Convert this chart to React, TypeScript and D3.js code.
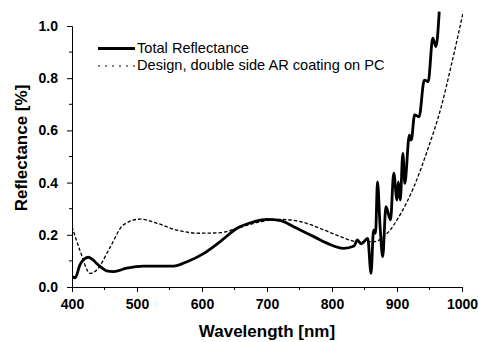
import { useEffect, useRef } from 'react';
import * as d3 from 'd3';

// Total Reflectance (measured)
const totalNm = [400, 405, 412, 418, 425, 432, 438, 446, 453, 464, 484, 510, 536, 556, 577, 603, 628, 654, 680, 700, 721, 741, 772, 793, 818, 834, 839, 845, 855, 860, 864, 867, 870, 874, 878, 883, 890, 895, 900, 902, 905, 909, 912, 919, 922, 927, 934, 942, 948, 955, 960, 965];
const totalR = [0.04, 0.035, 0.084, 0.105, 0.114, 0.105, 0.09, 0.073, 0.062, 0.059, 0.072, 0.08, 0.08, 0.08, 0.097, 0.129, 0.174, 0.225, 0.25, 0.259, 0.254, 0.231, 0.193, 0.167, 0.148, 0.157, 0.18, 0.165, 0.186, 0.052, 0.218, 0.206, 0.403, 0.231, 0.116, 0.308, 0.257, 0.436, 0.333, 0.403, 0.333, 0.512, 0.397, 0.582, 0.563, 0.659, 0.652, 0.793, 0.787, 0.953, 0.921, 1.055];

// Design, double side AR coating on PC
const designNm = [400, 412, 428, 438, 459, 479, 505, 531, 561, 597, 628, 654, 690, 721, 752, 788, 813, 839, 865, 885, 906, 926, 947, 968, 983, 1002];
const designR = [0.231, 0.142, 0.052, 0.065, 0.154, 0.238, 0.26, 0.244, 0.218, 0.206, 0.208, 0.225, 0.25, 0.259, 0.25, 0.218, 0.193, 0.174, 0.174, 0.206, 0.282, 0.384, 0.525, 0.69, 0.844, 1.055];

const xTicks = [400, 500, 600, 700, 800, 900, 1000];
const yTicks = [0, 0.2, 0.4, 0.6, 0.8, 1.0];

const legendLabels = ['Total Reflectance', 'Design, double side AR coating on PC'];

export default function App() {
  const ref = useRef<SVGSVGElement>(null);

  useEffect(() => {
    const svg = d3.select(ref.current);
    svg.selectAll('*').remove();

    const left = 72, right = 462, top = 26, bottom = 287;
    const x = d3.scaleLinear().domain([400, 1000]).range([left, right]);
    const y = d3.scaleLinear().domain([0, 1]).range([bottom, top]);
    const font = 'Arial, "Liberation Sans", sans-serif';

    svg.append('defs').append('clipPath').attr('id', 'plot')
      .append('rect').attr('x', left).attr('y', 10).attr('width', right - left + 1).attr('height', bottom - 10);

    // minor ticks
    const xMinor = d3.range(450, 1000, 100);
    const yMinor = d3.range(0.1, 1, 0.2);

    const xAx = svg.append('g').attr('transform', `translate(0,${bottom})`)
      .call(d3.axisBottom(x).tickValues(xTicks).tickSize(5).tickPadding(7).tickFormat(d3.format('d')));
    xAx.selectAll('text').attr('font-family', font).attr('font-weight', 'bold').attr('font-size', 14).attr('fill', '#000');
    xAx.select('.domain').attr('stroke', '#000');
    xAx.selectAll('line').attr('stroke', '#000');
    xMinor.forEach((v) => {
      xAx.append('line').attr('x1', x(v)).attr('x2', x(v)).attr('y1', 0).attr('y2', 3).attr('stroke', '#000');
    });

    const yAx = svg.append('g').attr('transform', `translate(${left},0)`)
      .call(d3.axisLeft(y).tickValues(yTicks).tickSize(5).tickPadding(9).tickFormat(d3.format('.1f')));
    yAx.selectAll('text').attr('font-family', font).attr('font-weight', 'bold').attr('font-size', 14).attr('fill', '#000');
    yAx.select('.domain').attr('stroke', '#000');
    yAx.selectAll('line').attr('stroke', '#000');
    yMinor.forEach((v) => {
      yAx.append('line').attr('y1', y(v)).attr('y2', y(v)).attr('x1', 0).attr('x2', -3).attr('stroke', '#000');
    });

    const line = d3.line<[number, number]>()
      .x((d) => x(d[0]))
      .y((d) => y(d[1]))
      .curve(d3.curveMonotoneX);

    const plot = svg.append('g').attr('clip-path', 'url(#plot)');
    plot.append('path')
      .attr('d', line(designNm.map((n, i) => [n, designR[i]] as [number, number])))
      .attr('fill', 'none').attr('stroke', '#000').attr('stroke-width', 1.3).attr('stroke-dasharray', '3.5,2');
    plot.append('path')
      .attr('d', line(totalNm.map((n, i) => [n, totalR[i]] as [number, number])))
      .attr('fill', 'none').attr('stroke', '#000').attr('stroke-width', 2.8).attr('stroke-linejoin', 'round');

    // legend
    const lg = svg.append('g');
    lg.append('line').attr('x1', 98).attr('x2', 135).attr('y1', 48.5).attr('y2', 48.5).attr('stroke', '#000').attr('stroke-width', 2.8);
    lg.append('line').attr('x1', 98).attr('x2', 135).attr('y1', 66).attr('y2', 66).attr('stroke', '#000').attr('stroke-width', 1.2).attr('stroke-dasharray', '2,5');
    legendLabels.forEach((t, i) => {
      lg.append('text').attr('x', 137).attr('y', 53 + i * 17).attr('font-family', font).attr('font-size', 14.6).text(t);
    });

    svg.append('text').attr('x', (left + right) / 2).attr('y', 337).attr('text-anchor', 'middle')
      .attr('font-family', font).attr('font-weight', 'bold').attr('font-size', 17).text('Wavelength [nm]');
    svg.append('text').attr('transform', 'translate(27,148) rotate(-90)').attr('text-anchor', 'middle')
      .attr('font-family', font).attr('font-weight', 'bold').attr('font-size', 17).text('Reflectance [%]');
  }, []);

  return (
    <svg ref={ref} width={479} height={342} style={{ position: 'absolute', left: 0, top: 0, background: '#fff' }} />
  );
}
